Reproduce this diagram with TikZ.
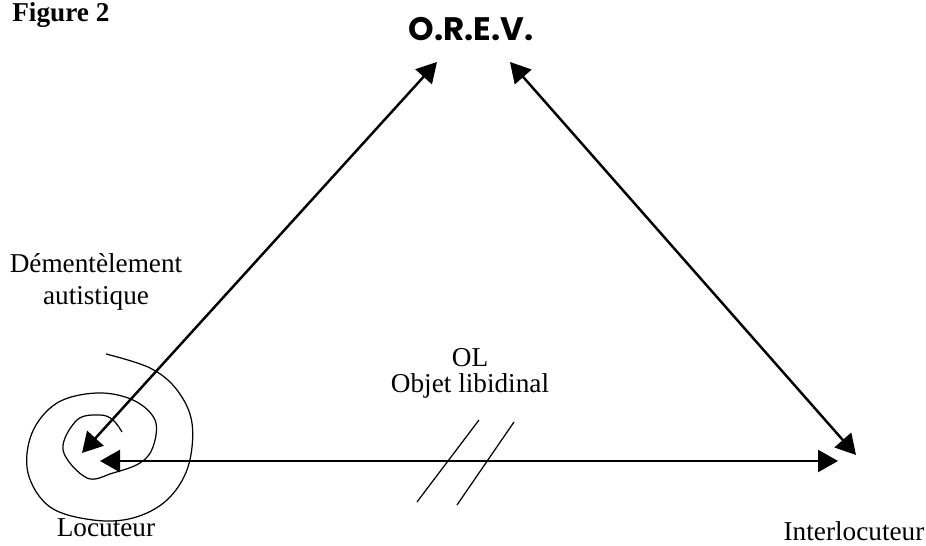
\documentclass[tikz,border=0pt]{standalone}
\usepackage{fontspec}
\setmainfont{Liberation Serif}
\newfontfamily\orevfont{Poppins}
\usetikzlibrary{arrows.meta}

\tikzset{
    lien/.style={line width=1.4pt, {Triangle[length=0.4cm,width=0.44cm]}-{Triangle[length=0.4cm,width=0.44cm]}},
    barre/.style={line width=0.7pt},
    label/.style={inner sep=0pt, font=\fontsize{15.5}{18}\selectfont}
}

\begin{document}
\begin{tikzpicture}
    \useasboundingbox (0,0) rectangle (18.52,10.92);

    % titles
    \node[label, anchor=base west, font=\fontsize{15.5}{18}\selectfont\bfseries] (fig) at (0.24,10.48) {Figure 2};
    \node[inner sep=0pt, font=\orevfont\fontsize{18.5}{20}\selectfont\bfseries] (orev) at (9.42,10.34) {O.R.E.V.};

    % arrow ends
    \coordinate (locA) at (1.64,1.86);
    \coordinate (locB) at (2.00,1.70);
    \coordinate (orevL) at (8.74,9.68);
    \coordinate (orevR) at (10.20,9.68);
    \coordinate (interA) at (17.12,1.82);
    \coordinate (interB) at (16.76,1.70);

    \draw[lien] (locA) -- (orevL);
    \draw[lien] (interA) -- (orevR);
    \draw[lien] (locB) -- (interB);

    % coupure
    \draw[barre] (8.34,0.88) -- (9.58,2.52);
    \draw[barre] (9.14,0.82) -- (10.28,2.48);

    % spirale
    \draw[barre] plot[smooth, tension=0.6] coordinates {
        (2.12,3.84) (3.00,3.56) (3.54,3.12) (3.84,2.46) (3.76,1.58)
        (3.34,0.92) (2.66,0.56) (1.86,0.52) (1.00,0.78) (0.56,1.46)
        (0.64,2.26) (1.14,2.86) (1.94,3.06) (2.66,2.92) (3.10,2.52)
        (3.06,1.98) (2.80,1.66) (2.26,1.46) (1.74,1.36) (1.26,1.92)
        (1.54,2.52) (2.00,2.62) (2.26,2.52) (2.44,2.28)};

    % labels
    \node[label, anchor=base] (dem) at (1.92,5.46) {Démentèlement};
    \node[label, anchor=base] (aut) at (1.92,4.82) {autistique};
    \node[label, anchor=base] (ol) at (9.40,3.58) {OL};
    \node[label, anchor=base] (obj) at (9.40,3.06) {Objet libidinal};
    \node[label, anchor=base] (loc) at (2.12,0.18) {Locuteur};
    \node[label, anchor=base] (inter) at (17.08,0.10) {Interlocuteur};
\end{tikzpicture}
\end{document}
